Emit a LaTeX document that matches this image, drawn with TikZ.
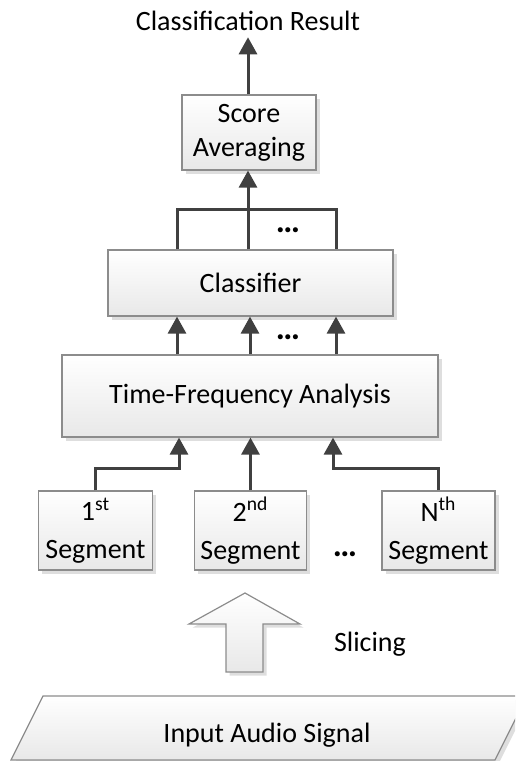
\documentclass[tikz,border=0pt]{standalone}
\usepackage{fontspec}
\setmainfont{Carlito}
\usetikzlibrary{arrows.meta,shadows}
\usetikzlibrary{positioning}

\tikzset{
  box/.style={draw=black!45, line width=0.6pt, top color=white, bottom color=black!9,
    drop shadow={shadow xshift=1.8pt, shadow yshift=-1.8pt, fill=black!13, opacity=1},
    align=center, inner sep=0pt},
  link/.style={draw=black!75, line width=1.5pt},
  arr/.style={link, -{Triangle[length=8.5pt,width=9pt]}},
  dots/.style={font=\fontsize{17}{17}\selectfont\bfseries, anchor=base}
}

\begin{document}
\begin{tikzpicture}[x=0.5pt,y=-0.5pt, font=\fontsize{14}{17}\selectfont]
\clip (0,0) rectangle (515,761);
% boxes
\node[anchor=base] (result) at (248,30){Classification Result};
\node[box, minimum width=67pt, minimum height=37.5pt] (score) at (249,132.5){Score\\Averaging};
\node[box, minimum width=142.5pt, minimum height=33pt] (cls) at (250.5,283){Classifier};
\node[box, minimum width=188pt, minimum height=41pt] (tf) at (250,396){Time-Frequency Analysis};
\node[box, minimum width=57pt, minimum height=39.5pt] (seg1) at (95.5,530.5){1\textsuperscript{st}\\[2pt]Segment};
\node[box, minimum width=56pt, minimum height=39.5pt] (seg2) at (250.5,530.5){2\textsuperscript{nd}\\[2pt]Segment};
\node[box, minimum width=56.5pt, minimum height=39.5pt] (segN) at (438.5,530.5){N\textsuperscript{th}\\[2pt]Segment};

% slicing arrow and input
\draw[box] (245,593) -- (300,624) -- (263,624) -- (263,672) -- (226,672) -- (226,624) -- (189,624) -- cycle;
\node[anchor=base] (slicing) at (370,651){Slicing};
\draw[box] (43,696) -- (527,696) -- (495,760) -- (11,760) -- cycle;
\node[anchor=base] (input) at (267,742){Input Audio Signal};

% connectors
\coordinate (c1) at (177,209);
\coordinate (c2) at (248,209);
\coordinate (c3) at (336,209);
\coordinate (m2) at (250,330);
\draw[link] (c1 |- cls.north) -- (c1) -- (c3) -- (c3 |- cls.north);
\draw[link] (c2 |- cls.north) -- (c2);
\draw[arr] (c2) -- (c2 |- score.south);
\draw[arr] (score.north -| result) -- (result.south);
\draw[arr] (c1 |- tf.north) -- (c1 |- cls.south);
\draw[arr] (m2 |- tf.north) -- (m2 |- cls.south);
\draw[arr] (c3 |- tf.north) -- (c3 |- cls.south);

\coordinate (s1) at (179,468);
\coordinate (s3) at (333,468);
\draw[arr] (seg1.north) |- (s1) -- (s1 |- tf.south);
\draw[arr] (seg2.north) -- (seg2.north |- tf.south);
\draw[arr] (segN.north) |- (s3) -- (s3 |- tf.south);

\node[dots] (d1) at (288,232){…};
\node[dots] (d2) at (288,339){…};
\node[dots] (d3) at (345,556){…};
\end{tikzpicture}
\end{document}
